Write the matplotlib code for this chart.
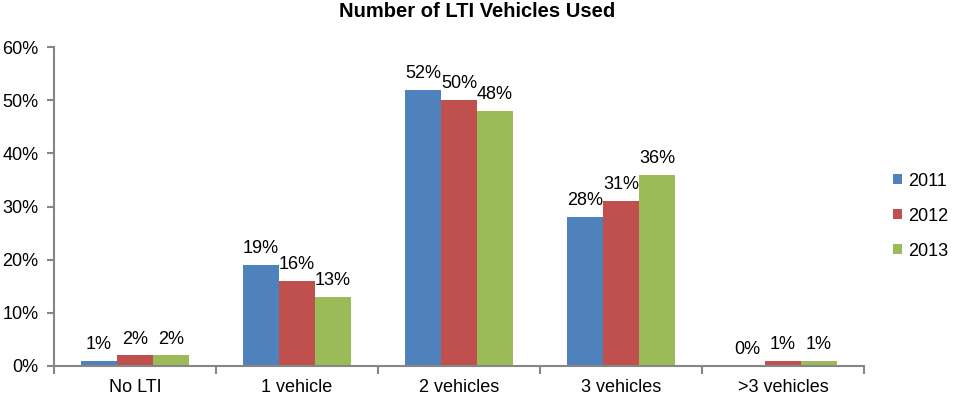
import matplotlib
matplotlib.use("Agg")
import matplotlib.pyplot as plt
import numpy as np

plt.rcParams['font.family'] = ['Liberation Sans', 'DejaVu Sans']

categories = ["No LTI", "1 vehicle", "2 vehicles", "3 vehicles", ">3 vehicles"]
series_names = ["2011", "2012", "2013"]
v2011 = [1, 19, 52, 28, 0]
v2012 = [2, 16, 50, 31, 1]
v2013 = [2, 13, 48, 36, 1]
colors = ["#4F81BD", "#C0504D", "#9BBB59"]

fig = plt.figure(figsize=(9.54, 3.98), dpi=100)
ax = fig.add_axes([54 / 954, 32 / 398, 810 / 954, 319 / 398])

x = np.arange(len(categories))
w = 0.222
for i, (vals, name, c) in enumerate(zip([v2011, v2012, v2013], series_names, colors)):
    pos = x + (i - 1) * w
    ax.bar(pos, vals, width=w, color=c, label=name)
    for p, v in zip(pos, vals):
        ax.annotate(f"{v}%", (p, v), xytext=(0, 8.5), textcoords="offset points",
                    ha="center", va="baseline", fontsize=13)

ax.set_xlim(-0.5, len(categories) - 0.5)
ax.set_ylim(0, 60)
ax.set_yticks(np.arange(0, 61, 10))
ax.set_yticklabels([f"{t}%" for t in range(0, 61, 10)], fontsize=13)
ax.set_xticks(x)
ax.set_xticklabels(categories, fontsize=13)
ax.set_xticks(np.arange(-0.5, len(categories) + 0.5, 1), minor=True)
ax.tick_params(axis='x', which='major', length=0, pad=9)
ax.tick_params(axis='x', which='minor', length=6, color="#868686", width=1.5)
ax.tick_params(axis='y', length=5, color="#868686", width=1.5, pad=6)
for s in ["top", "right"]:
    ax.spines[s].set_visible(False)
for s in ["left", "bottom"]:
    ax.spines[s].set_color("#868686")
    ax.spines[s].set_linewidth(1.5)

fig.text(0.5, 1 - 17 / 398, "Number of LTI Vehicles Used", fontsize=14.5,
         fontweight="bold", ha="center", va="baseline")
leg = ax.legend(loc="center left", bbox_to_anchor=(1.027, 0.47), frameon=False,
                fontsize=13, handlelength=0.5, handleheight=0.5, handletextpad=0.35,
                labelspacing=1.0, borderaxespad=0)

fig.savefig("out.png", dpi=100)
